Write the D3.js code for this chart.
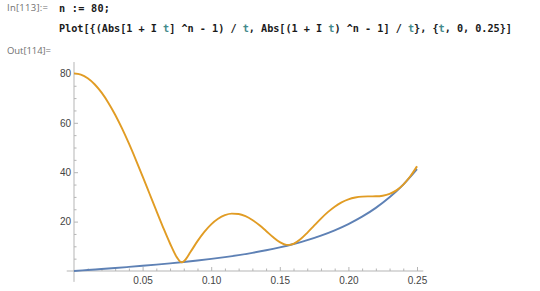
<!DOCTYPE html>
<html>
<head>
<meta charset="utf-8">
<script src="https://cdn.jsdelivr.net/npm/d3@7"></script>
<style>
  body { margin: 0; background: #fff; }
  svg { display: block; }
</style>
</head>
<body>
<script>
// Data
var blueT = [0, 0.01, 0.02, 0.03, 0.04, 0.05, 0.06, 0.07, 0.08, 0.09, 0.10, 0.11, 0.12,
  0.13, 0.14, 0.15, 0.16, 0.17, 0.18, 0.19, 0.20, 0.21, 0.22, 0.23, 0.24, 0.25];
var blueValues = [0, 0.40, 0.81, 1.22, 1.65, 2.10, 2.58, 3.09, 3.63, 4.23, 4.89, 5.62, 6.43,
  7.35, 8.38, 9.57, 10.93, 12.50, 14.34, 16.48, 19.01, 22.00, 25.56, 29.83, 34.98, 41.22];

var orangeT = [0, 0.005, 0.01, 0.015, 0.02, 0.025, 0.03, 0.035, 0.04, 0.045,
  0.05, 0.055, 0.06, 0.065, 0.07, 0.075, 0.0775, 0.0787, 0.08, 0.085,
  0.09, 0.095, 0.1, 0.105, 0.11, 0.115, 0.12, 0.125, 0.13, 0.135,
  0.14, 0.145, 0.15, 0.155, 0.1584, 0.16, 0.165, 0.17, 0.175, 0.18,
  0.185, 0.19, 0.195, 0.2, 0.205, 0.21, 0.215, 0.22, 0.225, 0.23,
  0.235, 0.24, 0.245, 0.25];
var orangeValues = [80, 79.51, 78.04, 75.62, 72.31, 68.16, 63.27, 57.72, 51.63, 45.12,
  38.32, 31.37, 24.41, 17.59, 11.13, 5.51, 3.76, 3.56, 3.92, 7.79,
  12.09, 15.86, 18.90, 21.15, 22.59, 23.21, 23.05, 22.17, 20.64, 18.60,
  16.22, 13.76, 11.68, 10.58, 10.70, 11.01, 12.83, 15.46, 18.37, 21.23,
  23.83, 26.03, 27.76, 28.99, 29.75, 30.12, 30.21, 30.24, 30.47, 31.19,
  32.63, 34.98, 38.25, 42.37];

var xTicks = [0.05, 0.10, 0.15, 0.20, 0.25];
var xMinorTicks = [0.01, 0.02, 0.03, 0.04, 0.06, 0.07, 0.08, 0.09, 0.11, 0.12, 0.13, 0.14,
  0.16, 0.17, 0.18, 0.19, 0.21, 0.22, 0.23, 0.24];
var yTicks = [20, 40, 60, 80];
var yMinorTicks = [5, 10, 15, 25, 30, 35, 45, 50, 55, 65, 70, 75];

// notebook text
var inLabel = "In[113]:=";
var outLabel = "Out[114]=";
var codeLine1 = [["n := 80;", "k"]];
var codeLine2 = [["Plot[{(Abs[1 + I ", "k"], ["t", "v"], ["] ^n - 1) / ", "k"], ["t", "v"],
  [", Abs[(1 + I ", "k"], ["t", "v"], [") ^n - 1] / ", "k"], ["t", "v"], ["}, {", "k"],
  ["t", "v"], [", 0, 0.25}]", "k"]];

var W = 540, H = 291;
var svg = d3.select("body").append("svg")
  .attr("width", W)
  .attr("height", H);

// Scales
var xRange = d3.scaleLinear().domain([0, 0.25]).range([74, 417]);
var yRange = d3.scaleLinear().domain([0, 80]).range([271, 73.4]);

// notebook labels
svg.append("text")
  .attr("x", 7).attr("y", 10.5)
  .attr("font-family", "Open Sans, sans-serif")
  .attr("font-size", 9.5)
  .attr("fill", "#707070")
  .attr("textLength", 41)
  .text(inLabel);
svg.append("text")
  .attr("x", 7).attr("y", 54)
  .attr("font-family", "Open Sans, sans-serif")
  .attr("font-size", 9.5)
  .attr("fill", "#707070")
  .attr("textLength", 44)
  .text(outLabel);

function codeText(y, parts, len) {
  var t = svg.append("text")
    .attr("x", 59).attr("y", y)
    .attr("font-family", "DejaVu Sans Mono, monospace")
    .attr("font-weight", "bold")
    .attr("font-size", 10.2)
    .attr("xml:space", "preserve")
    .style("white-space", "pre");
  if (len) t.attr("textLength", len);
  parts.forEach(function (p) {
    t.append("tspan")
      .attr("fill", p[1] == "v" ? "#438a8c" : "#1a1a1a")
      .text(p[0]);
  });
}
codeText(12.3, codeLine1, 51);
codeText(32.3, codeLine2, 453);

// Axes lines (with Mathematica style padding)
var axisColor = "#b5b5b5";
svg.append("line")
  .attr("x1", xRange(-0.0053)).attr("x2", xRange(0.2546))
  .attr("y1", yRange(0)).attr("y2", yRange(0))
  .attr("stroke", axisColor).attr("stroke-width", 1);
svg.append("line")
  .attr("x1", xRange(0)).attr("x2", xRange(0))
  .attr("y1", yRange(-4.4)).attr("y2", yRange(84.6))
  .attr("stroke", axisColor).attr("stroke-width", 1);

// X axis ticks
var xAxis = d3.axisBottom(xRange).tickValues(xTicks)
  .tickSizeInner(-4).tickSizeOuter(0).tickPadding(6)
  .tickFormat(d3.format(".2f"));
var xMinor = d3.axisBottom(xRange).tickValues(xMinorTicks)
  .tickSizeInner(-2.5).tickSizeOuter(0).tickFormat("");

var yAxis = d3.axisLeft(yRange).tickValues(yTicks)
  .tickSizeInner(-4).tickSizeOuter(0).tickPadding(3);
var yMinor = d3.axisLeft(yRange).tickValues(yMinorTicks)
  .tickSizeInner(-2.5).tickSizeOuter(0).tickFormat("");

[[xAxis, "translate(0," + yRange(0) + ")"], [xMinor, "translate(0," + yRange(0) + ")"],
 [yAxis, "translate(" + xRange(0) + ",0)"], [yMinor, "translate(" + xRange(0) + ",0)"]]
  .forEach(function (a) {
    var g = svg.append("g")
      .attr("transform", a[1])
      .call(a[0]);
    g.select(".domain").remove();
    g.selectAll("line").attr("stroke", axisColor);
    g.selectAll("text")
      .attr("fill", "#444")
      .attr("font-family", "Liberation Sans, Arial, sans-serif")
      .attr("font-size", 10);
  });

// Curves
var line = d3.line()
  .x(function (d) { return xRange(d[0]); })
  .y(function (d) { return yRange(d[1]); })
  .curve(d3.curveMonotoneX);

svg.append("path")
  .datum(d3.zip(blueT, blueValues))
  .attr("d", line)
  .attr("fill", "none")
  .attr("stroke", "#5e81b5")
  .attr("stroke-width", 1.9);

svg.append("path")
  .datum(d3.zip(orangeT, orangeValues))
  .attr("d", line)
  .attr("fill", "none")
  .attr("stroke", "#e19c24")
  .attr("stroke-width", 1.9);
</script>
</body>
</html>
